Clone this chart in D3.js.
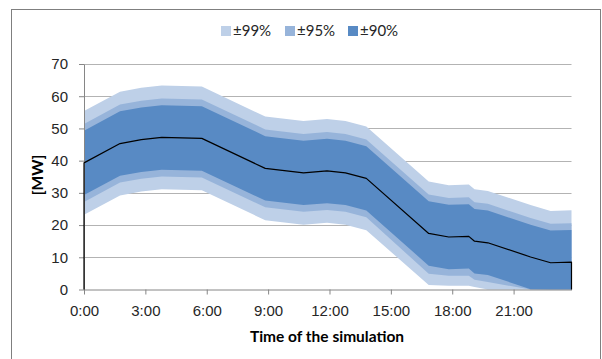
<!DOCTYPE html>
<html>
<head>
<meta charset="utf-8">
<script src="https://cdn.jsdelivr.net/npm/d3@7"></script>
<style>
  body { margin: 0; background: #fff; }
  svg { display: block; font-family: Lato, "Open Sans", sans-serif; }
  .tick text { fill: #262626; font-size: 15px; }
</style>
</head>
<body>
<div id="chart"></div>
<script>
// time of each point, in hours since 0:00
const hours = [0, 1.76, 2.8, 3.8, 5.76, 8.86, 10.73, 11.88, 12.78, 13.8, 16.85, 17.83, 18.81, 19.09, 19.74, 21.83, 22.81, 23.83];
// mean simulated power [MW]
const meanMW = [39.3, 45.3, 46.5, 47.2, 46.9, 37.6, 36.2, 36.8, 36.2, 34.5, 17.4, 16.3, 16.5, 15.0, 14.5, 10.1, 8.3, 8.5];
// confidence bands (lower / upper)
const lo99 = [23.2, 29.2, 30.4, 31.1, 30.8, 21.5, 20.1, 20.7, 20.1, 18.4, 1.4, 1.2, 1.2, 0.8, 0, 0, 0, 0];
const hi99 = [55.4, 61.4, 62.6, 63.3, 63.0, 53.7, 52.3, 52.9, 52.3, 50.6, 33.5, 32.4, 32.6, 31.1, 30.6, 26.2, 24.4, 24.6];
const lo95 = [27.2, 33.2, 34.4, 35.1, 34.8, 25.5, 24.1, 24.7, 24.1, 22.4, 4.9, 4.3, 4.3, 3.0, 2.3, 0, 0, 0];
const hi95 = [51.4, 57.4, 58.6, 59.3, 59.0, 49.7, 48.3, 48.9, 48.3, 46.6, 29.5, 28.4, 28.6, 27.1, 26.6, 22.2, 20.4, 20.6];
const lo90 = [29.3, 35.3, 36.5, 37.2, 36.9, 27.6, 26.2, 26.8, 26.2, 24.5, 7.4, 6.3, 6.5, 5.0, 4.5, 0.1, 0, 0];
const hi90 = [49.3, 55.3, 56.5, 57.2, 56.9, 47.6, 46.2, 46.8, 46.2, 44.5, 27.4, 26.3, 26.5, 25.0, 24.5, 20.1, 18.3, 18.5];

const bandNames = ["±99%", "±95%", "±90%"];
const bandColors = ["#bed0e8", "#97b4da", "#588ac4"];
const xTicks = [0, 3, 6, 9, 12, 15, 18, 21];
const yTicks = [0, 10, 20, 30, 40, 50, 60, 70];

const W = 602, H = 359;
const svg = d3.select("#chart").append("svg").attr("width", W).attr("height", H);

// outer chart border
svg.append("rect")
  .attr("x", 11.5).attr("y", 9.5)
  .attr("width", 589).attr("height", 360)
  .attr("fill", "none").attr("stroke", "#7f7f7f");

const x = d3.scaleLinear().domain([0, 23.83]).range([84, 571.5]);
const y = d3.scaleLinear().domain([0, 70]).range([289.5, 64]);

// gridlines
svg.append("g").selectAll("line")
  .data(yTicks.slice(1))
  .join("line")
  .attr("x1", x(0)).attr("x2", x.range()[1])
  .attr("y1", d => Math.round(y(d)) + 0.5).attr("y2", d => Math.round(y(d)) + 0.5)
  .attr("stroke", "#b3b3b3");

// bands
const bands = [[lo99, hi99], [lo95, hi95], [lo90, hi90]];
const area = d3.area()
  .x(d => x(d.h))
  .y0(d => y(d.lo))
  .y1(d => y(d.hi));

bands.forEach(([lo, hi], i) => {
  const pts = hours.map((h, j) => ({ h: h, lo: lo[j], hi: hi[j] }));
  svg.append("path")
    .attr("d", area(pts))
    .attr("fill", bandColors[i]);
});

// axes
const yAxis = svg.append("g")
  .attr("transform", `translate(${x(0)},0)`)
  .call(d3.axisLeft(y).tickValues(yTicks).tickSize(5).tickSizeOuter(0).tickPadding(11));
yAxis.select(".domain").attr("stroke", "#868686");
yAxis.selectAll(".tick line").attr("stroke", "#868686");

const xAxis = svg.append("g")
  .attr("transform", `translate(0,${y(0)})`)
  .call(d3.axisBottom(x).tickValues(xTicks).tickFormat(d => d + ":00").tickSize(5).tickSizeOuter(0).tickPadding(11));
xAxis.select(".domain").attr("stroke", "#868686");
xAxis.selectAll(".tick line").attr("stroke", "#868686");

// mean (drawn like an Excel area border: closed down to 0)
const meanPts = hours.map((h, j) => [x(h), y(meanMW[j])]);
meanPts.unshift([x(0), y(0)]);
meanPts.push([x(hours[hours.length - 1]), y(0)]);
svg.append("path")
  .attr("d", d3.line()(meanPts))
  .attr("fill", "none")
  .attr("stroke", "#000")
  .attr("stroke-width", 1.2)
  .attr("stroke-linejoin", "round");

// axis titles
svg.append("text")
  .attr("x", 327).attr("y", 342)
  .attr("text-anchor", "middle")
  .attr("font-size", 15.5).attr("font-weight", "bold").attr("fill", "#000")
  .text("Time of the simulation");

svg.append("text")
  .attr("transform", "translate(43,175) rotate(-90)")
  .attr("text-anchor", "middle")
  .attr("font-size", 15.5).attr("font-weight", "bold").attr("fill", "#000")
  .text("[MW]");

// legend
const legendX = [221, 285, 348];
const legend = svg.append("g");
bandNames.forEach((name, i) => {
  legend.append("rect")
    .attr("x", legendX[i]).attr("y", 26)
    .attr("width", 10).attr("height", 10)
    .attr("fill", bandColors[i]);
  legend.append("text")
    .attr("x", legendX[i] + 12).attr("y", 36)
    .attr("font-size", 15).attr("fill", "#262626")
    .text(name);
});
</script>
</body>
</html>
